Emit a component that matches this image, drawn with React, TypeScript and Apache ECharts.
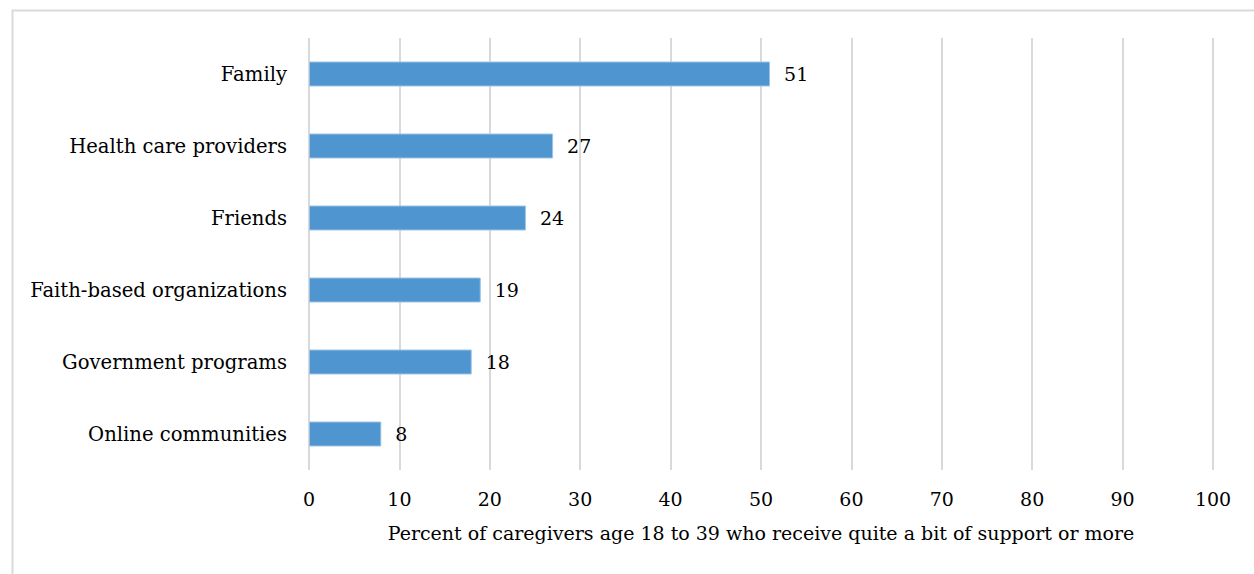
import React, { useEffect, useRef } from "react";
import * as echarts from "echarts";

// Support sources, listed top to bottom
const categories = [
  "Family",
  "Health care providers",
  "Friends",
  "Faith-based organizations",
  "Government programs",
  "Online communities",
];
const values = [51, 27, 24, 19, 18, 8];
const xTicks = [0, 10, 20, 30, 40, 50, 60, 70, 80, 90, 100];
const xAxisTitle =
  "Percent of caregivers age 18 to 39 who receive quite a bit of support or more";

const FONT = "DejaVu Serif";

export default function App() {
  const ref = useRef<HTMLDivElement>(null);

  useEffect(() => {
    if (!ref.current) return;
    const chart = echarts.init(ref.current, undefined, { renderer: "svg" });
    chart.setOption({
      animation: false,
      backgroundColor: "#ffffff",
      graphic: [
        {
          type: "rect",
          left: 10,
          top: 8,
          shape: { width: 1300, height: 620 },
          style: { fill: "none", stroke: "#d9d9d9", lineWidth: 2 },
          silent: true,
        },
      ],
      grid: { left: 309, right: 41, top: 38, bottom: 104, containLabel: false },
      xAxis: {
        type: "value",
        min: xTicks[0],
        max: xTicks[xTicks.length - 1],
        interval: 10,
        axisLine: { show: false },
        axisTick: { show: false },
        splitLine: { show: true, lineStyle: { color: "#d9d9d9", width: 2 } },
        axisLabel: {
          margin: 19,
          fontFamily: FONT,
          fontSize: 19,
          color: "#000000",
        },
        name: xAxisTitle,
        nameLocation: "middle",
        nameGap: 53,
        nameTextStyle: { fontFamily: FONT, fontSize: 19, color: "#000000" },
      },
      yAxis: {
        type: "category",
        data: categories,
        inverse: true,
        axisLine: { show: false },
        axisTick: { show: false },
        splitLine: { show: false },
        axisLabel: {
          margin: 22,
          fontFamily: FONT,
          fontSize: 19.6,
          color: "#000000",
        },
      },
      series: [
        {
          type: "bar",
          data: values,
          barWidth: 25,
          itemStyle: { color: "#4f96d1", borderColor: "#9cc3e6", borderWidth: 1 },
          label: {
            show: true,
            position: "right",
            distance: 14,
            fontFamily: FONT,
            fontSize: 19,
            color: "#000000",
          },
        },
      ],
    });
    return () => chart.dispose();
  }, []);

  return (
    <div
      ref={ref}
      style={{ position: "absolute", left: 0, top: 0, width: 1254, height: 574 }}
    />
  );
}
